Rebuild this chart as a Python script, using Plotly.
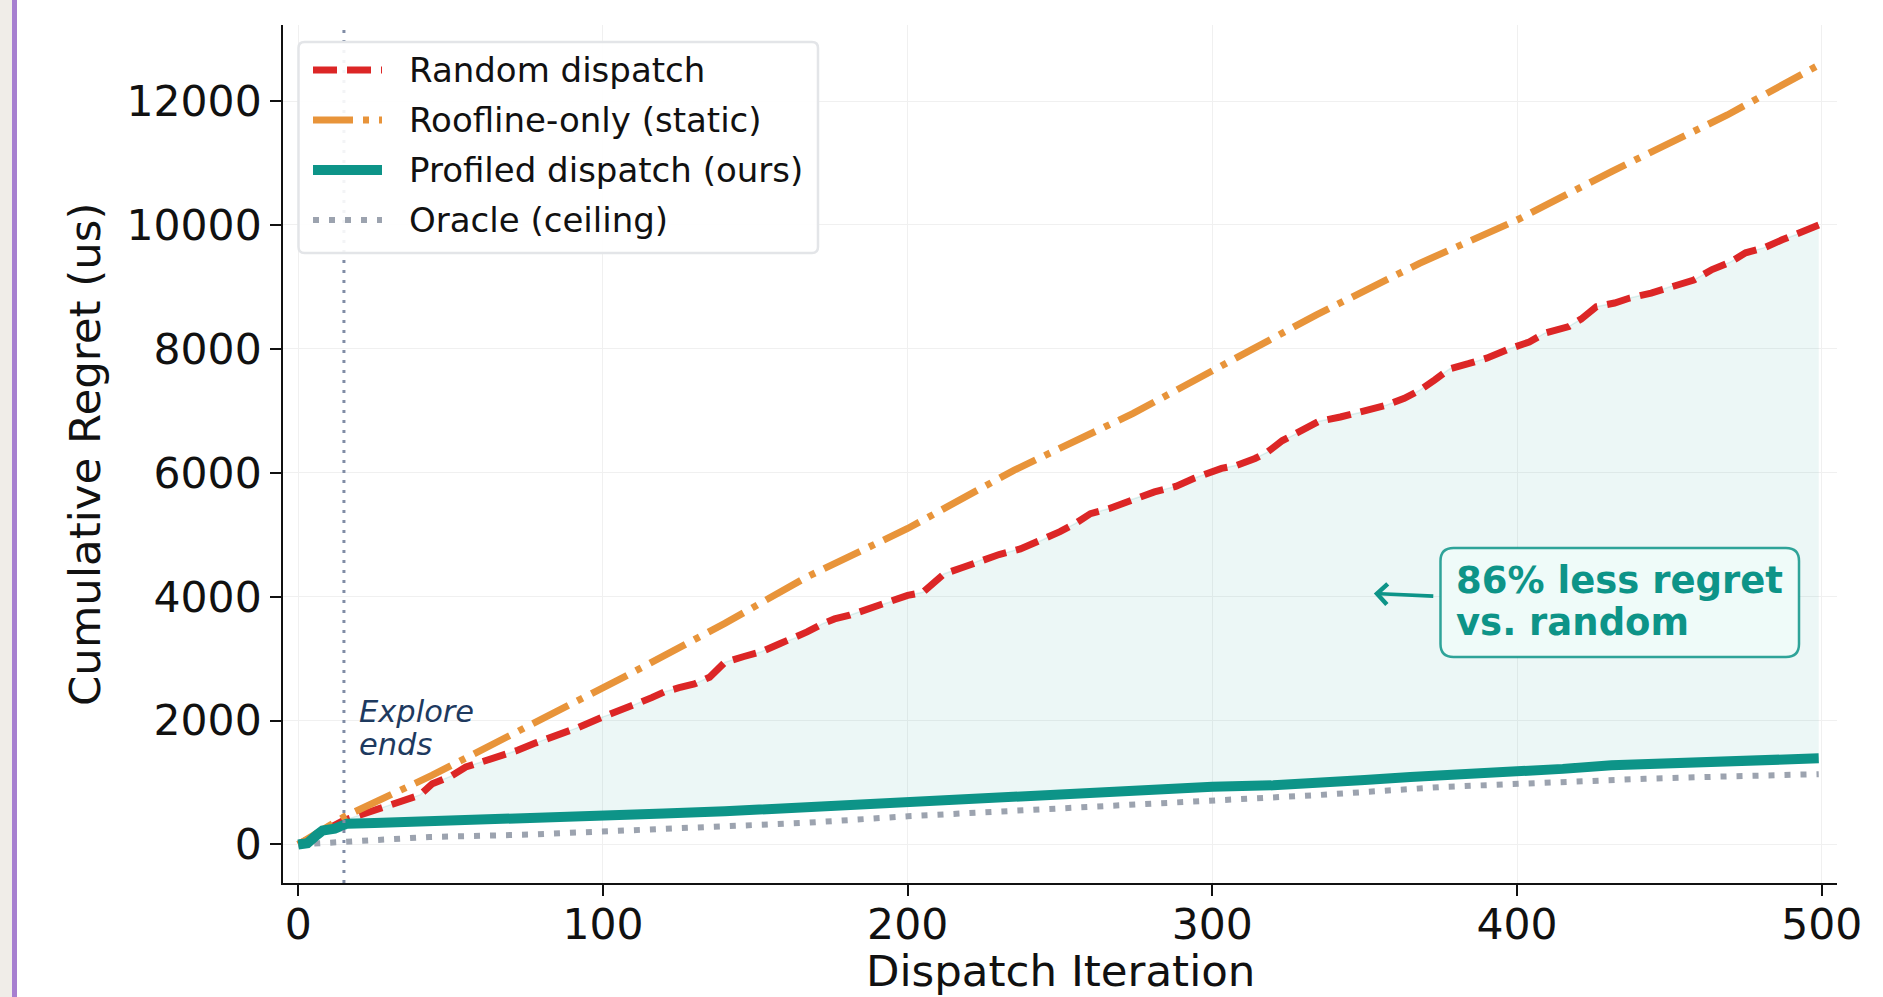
import plotly.graph_objects as go

# ---------------- data ----------------
iters_random = [0, 5, 10, 15, 20, 25, 30, 35, 40, 44, 50, 55, 62, 68, 72, 78, 85, 92, 100,
                106, 111, 116, 120, 125, 130, 135, 138, 140, 146, 152, 158, 163, 167, 172,
                176, 181, 187, 194, 200, 205, 209, 212, 218, 224, 230, 237, 244, 250, 255,
                260, 266, 273, 281, 288, 294, 303, 308, 314, 318, 323, 328, 335, 342, 350,
                357, 363, 368, 373, 378, 384, 390, 398, 404, 409, 417, 421, 426, 432, 437,
                444, 452, 458, 464, 470, 475, 481, 487, 492, 497, 499]
regret_random = [0, 120, 260, 390, 470, 555, 640, 720, 800, 980, 1100, 1250, 1360, 1450, 1520,
                 1640, 1760, 1890, 2060, 2160, 2270, 2370, 2460, 2530, 2590, 2700, 2850, 2940,
                 3030, 3110, 3240, 3330, 3430, 3560, 3640, 3700, 3800, 3910, 4020, 4070, 4250,
                 4370, 4470, 4590, 4680, 4770, 4910, 5050, 5180, 5340, 5420, 5560, 5690, 5780,
                 5910, 6070, 6120, 6230, 6330, 6520, 6640, 6830, 6900, 6990, 7090, 7200, 7330,
                 7500, 7680, 7760, 7850, 8010, 8110, 8250, 8360, 8480, 8680, 8740, 8820, 8900,
                 9030, 9110, 9280, 9400, 9550, 9630, 9760, 9850, 9950, 10000]

iters_roofline = [0, 15, 44, 83, 107, 140, 167, 200, 235, 274, 300, 334, 368, 400, 431, 469, 499]
regret_roofline = [0, 445, 1118, 2087, 2706, 3568, 4320, 5100, 6043, 6958, 7647, 8545, 9380,
                   10080, 10862, 11775, 12580]

iters_profiled = [0, 3, 6, 8, 12, 14, 16, 25, 40, 60, 82, 100, 120, 140, 167, 185, 200, 232,
                  250, 263, 280, 300, 320, 335, 350, 365, 385, 400, 415, 431, 450, 467, 485, 499]
regret_profiled = [0, 20, 150, 225, 255, 280, 335, 345, 365, 385, 415, 455, 500, 535, 605, 650,
                   685, 745, 800, 845, 890, 930, 955, 985, 1040, 1090, 1130, 1170, 1220, 1280,
                   1305, 1335, 1360, 1390]

iters_oracle = [0, 16, 43, 76, 100, 135, 167, 200, 233, 263, 300, 334, 376, 404, 442, 470, 499]
regret_oracle = [0, 45, 120, 160, 205, 285, 350, 455, 540, 605, 715, 795, 930, 990, 1060, 1100,
                 1135]

series_names = ["Random dispatch", "Roofline-only (static)", "Profiled dispatch (ours)",
                "Oracle (ceiling)"]
x_ticks = [0, 100, 200, 300, 400, 500]
y_ticks = [0, 2000, 4000, 6000, 8000, 10000, 12000]
explore_end = 15

# ---------------- styling ----------------
FONT = "DejaVu Sans"
RED, ORANGE, TEAL, GRAY = "#dc2626", "#e8943a", "#0d9488", "#9ca3af"
W, H = 1883, 997
ML, MR, MT, MB = 283, 46, 25, 114
PW, PH = W - ML - MR, H - MT - MB


def fx(px):
    return (px - ML) / PW


def fy(py):
    return (H - MB - py) / PH


def rounded(x0, y0, x1, y1, r):
    pts = [("M", [(x0 + r, y0)]), ("L", [(x1 - r, y0)]), ("Q", [(x1, y0), (x1, y0 + r)]),
           ("L", [(x1, y1 - r)]), ("Q", [(x1, y1), (x1 - r, y1)]), ("L", [(x0 + r, y1)]),
           ("Q", [(x0, y1), (x0, y1 - r)]), ("L", [(x0, y0 + r)]), ("Q", [(x0, y0), (x0 + r, y0)])]
    s = ""
    for cmd, ps in pts:
        s += cmd + " ".join(f"{fx(a):.5f},{fy(b):.5f}" for a, b in ps) + " "
    return s + "Z"


styles = {
    "Random dispatch": dict(color=RED, width=7, dash="24px,10px"),
    "Roofline-only (static)": dict(color=ORANGE, width=7, dash="40px,10px,6px,10px"),
    "Profiled dispatch (ours)": dict(color=TEAL, width=10),
    "Oracle (ceiling)": dict(color=GRAY, width=6, dash="6px,10px"),
}

fig = go.Figure()
# shaded gap between random and profiled
fig.add_trace(go.Scatter(x=iters_random, y=regret_random, mode="lines",
                         line=dict(color="rgba(13,148,136,0.12)", width=1.5),
                         hoverinfo="skip", showlegend=False))
fig.add_trace(go.Scatter(x=iters_profiled, y=regret_profiled, mode="lines",
                         line=dict(color="rgba(13,148,136,0.12)", width=1.5),
                         fill="tonexty", fillcolor="rgba(13,148,136,0.08)",
                         hoverinfo="skip", showlegend=False))

fig.add_trace(go.Scatter(x=iters_oracle, y=regret_oracle, mode="lines", name=series_names[3],
                         line=styles[series_names[3]], showlegend=False))
fig.add_trace(go.Scatter(x=iters_random, y=regret_random, mode="lines", name=series_names[0],
                         line=styles[series_names[0]], showlegend=False))
fig.add_trace(go.Scatter(x=iters_roofline, y=regret_roofline, mode="lines", name=series_names[1],
                         line=styles[series_names[1]], showlegend=False))
fig.add_trace(go.Scatter(x=iters_profiled, y=regret_profiled, mode="lines", name=series_names[2],
                         line=styles[series_names[2]], showlegend=False))

shapes = []
annotations = []

# page decoration at the left edge
shapes.append(dict(type="rect", xref="paper", yref="paper", x0=fx(0), x1=fx(12), y0=fy(H), y1=fy(0),
                   fillcolor="#f0ede8", line=dict(width=0), layer="below"))
shapes.append(dict(type="rect", xref="paper", yref="paper", x0=fx(12), x1=fx(17), y0=fy(H), y1=fy(0),
                   fillcolor="#a77fd0", line=dict(width=0), layer="below"))

# explore-ends vertical line
shapes.append(dict(type="line", xref="x", yref="paper", x0=explore_end, x1=explore_end, y0=0, y1=1,
                   line=dict(color="#808ca5", width=3, dash="3px,7px"), layer="above"))
annotations.append(dict(x=20, y=2149, xref="x", yref="y", text="<i>Explore</i>", showarrow=False,
                        xanchor="left", yanchor="middle", xshift=-2,
                        font=dict(family=FONT, size=30.5, color="#1e3a5f")))
annotations.append(dict(x=20, y=1611, xref="x", yref="y", text="<i>ends</i>", showarrow=False,
                        xanchor="left", yanchor="middle", xshift=-2,
                        font=dict(family=FONT, size=30.5, color="#1e3a5f")))

# callout
shapes.append(dict(type="path", xref="paper", yref="paper", path=rounded(1440.5, 548, 1799, 657, 13),
                   fillcolor="#effbf9", line=dict(color="rgba(13,148,136,0.85)", width=2.5),
                   layer="above"))
annotations.append(dict(x=353, y=4050, ax=373, ay=4008, xref="x", yref="y", axref="x", ayref="y",
                        text="", showarrow=True, arrowhead=4, arrowsize=1.1, arrowwidth=3.6,
                        arrowcolor=TEAL, standoff=0, startstandoff=0))
annotations.append(dict(x=380, y=4263, xref="x", yref="y", text="<b>86% less regret</b>",
                        showarrow=False, xanchor="left", yanchor="middle", xshift=-2,
                        font=dict(family=FONT, size=37, color=TEAL)))
annotations.append(dict(x=380, y=3585, xref="x", yref="y", text="<b>vs. random</b>",
                        showarrow=False, xanchor="left", yanchor="middle", xshift=-2,
                        font=dict(family=FONT, size=37, color=TEAL)))

# manual legend
shapes.append(dict(type="path", xref="paper", yref="paper", path=rounded(298.5, 42, 818, 253, 6),
                   fillcolor="rgba(255,255,255,0.9)", line=dict(color="#e3e5e8", width=2.5),
                   layer="above"))
for i, name in enumerate(series_names):
    yy = 70 + 50 * i
    st = dict(styles[name])
    shapes.append(dict(type="line", xref="paper", yref="paper", x0=fx(313), x1=fx(382),
                       y0=fy(yy), y1=fy(yy), line=st, layer="above"))
    annotations.append(dict(x=fx(410.5), y=fy(yy + 0.3), xref="paper", yref="paper", text=name,
                            showarrow=False, xanchor="left", yanchor="middle", xshift=-4,
                            font=dict(family=FONT, size=34, color="#111111")))

# axis titles
annotations.append(dict(x=0.5, y=0, xref="paper", yref="paper", text="Dispatch Iteration",
                        showarrow=False, xanchor="center", yanchor="middle", yshift=-(971 - (H - MB)),
                        font=dict(family=FONT, size=43.5, color="#111111")))
annotations.append(dict(x=0, y=0.5, xref="paper", yref="paper", text="Cumulative Regret (us)",
                        showarrow=False, xanchor="center", yanchor="middle", xshift=85 - ML,
                        textangle=-90, font=dict(family=FONT, size=43.5, color="#111111")))

axis_common = dict(showline=True, linecolor="#111111", linewidth=1.6, mirror=False,
                   ticks="outside", ticklen=11, tickwidth=1.6, tickcolor="#111111",
                   showgrid=True, gridcolor="#f0f0f0", gridwidth=1.3, zeroline=False,
                   tickfont=dict(family=FONT, size=42.5, color="#111111"))

fig.update_layout(
    width=W, height=H,
    margin=dict(l=ML, r=MR, t=MT, b=MB, pad=0),
    paper_bgcolor="white", plot_bgcolor="white",
    showlegend=False,
    xaxis=dict(range=[-5, 505], tickvals=x_ticks, tickformat="d", ticklabelstandoff=-8,
               **axis_common),
    yaxis=dict(range=[-622, 13227], tickvals=y_ticks, tickformat="d", **axis_common),
    shapes=shapes, annotations=annotations,
    font=dict(family=FONT),
)

fig.write_html("out.html")
